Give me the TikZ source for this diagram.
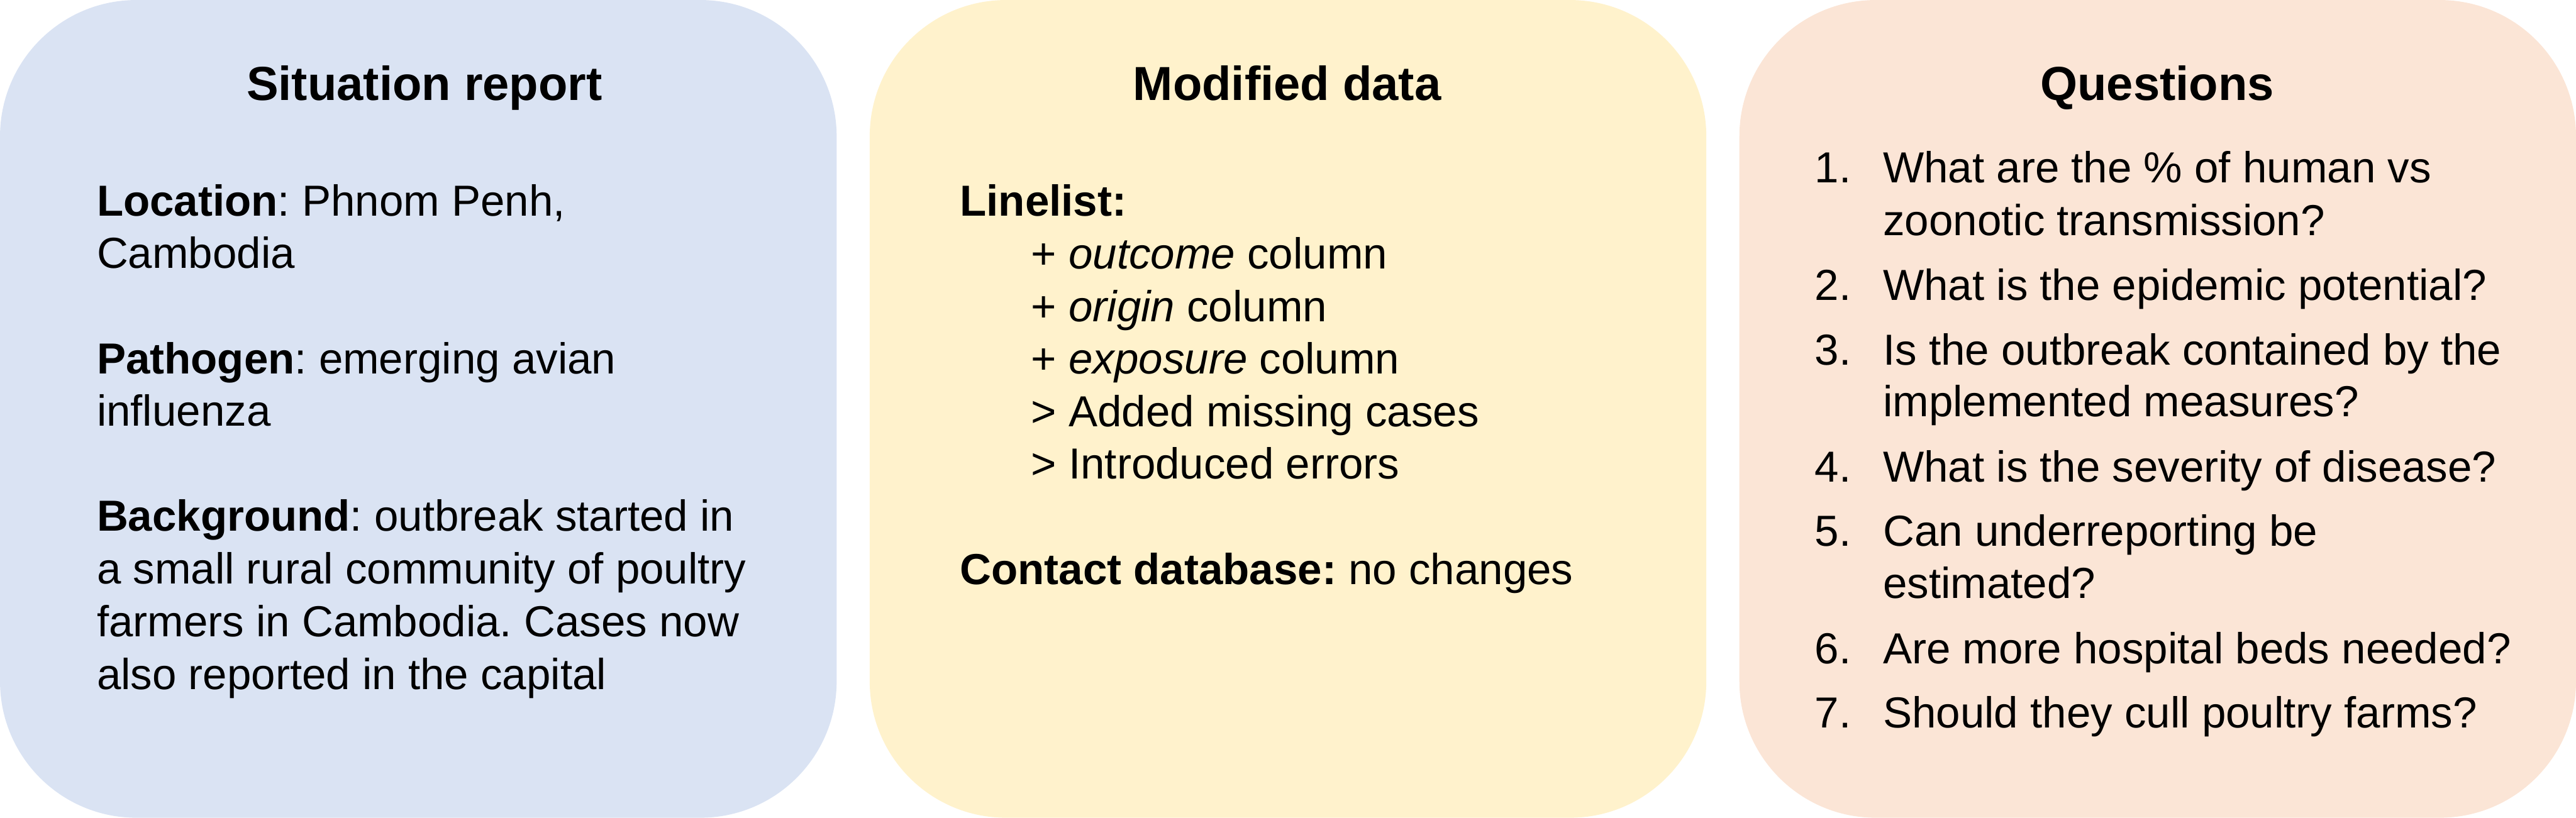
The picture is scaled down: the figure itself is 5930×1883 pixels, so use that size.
\documentclass[tikz,border=0pt]{standalone}
\usepackage{fontspec}
\setmainfont{Liberation Sans}
\frenchspacing
\definecolor{boxblue}{HTML}{DAE3F3}
\definecolor{boxyellow}{HTML}{FFF2CC}
\definecolor{boxpeach}{HTML}{FBE5D6}
\begin{document}
\begin{tikzpicture}[x=0.1pt,y=0.1pt,
  panel/.style={rectangle, rounded corners=31.4pt, draw=none, inner sep=0pt,
                minimum width=192.6pt, minimum height=188.3pt},
  title/.style={anchor=base, font=\fontsize{11}{13}\selectfont\bfseries\frenchspacing, inner sep=0pt},
  body/.style={anchor=base west, font=\fontsize{10}{12.1}\selectfont\frenchspacing, inner sep=0pt}]
\useasboundingbox (0,0) rectangle (5930,1883);
\node[panel, fill=boxblue]   (p1) at (963,941.5)  {};
\node[panel, fill=boxyellow] (p2) at (2965,941.5) {};
\node[panel, fill=boxpeach]  (p3) at (4967,941.5) {};

% Titles
\node[title] (t1) at (977,1652)  {Situation report};
\node[title] (t2) at (2963,1652) {Modified data};
\node[title] (t3) at (4966,1652) {Questions};

% Box 1
\node[body] (a1) at (221,1385) {\textbf{Location}: Phnom Penh,};
\node[body] (a2) at (221,1265) {Cambodia};
\node[body] (a3) at (221,1023) {\textbf{Pathogen}: emerging avian};
\node[body] (a4) at (221,902)  {influenza};
\node[body] (a5) at (221,661)  {\textbf{Background}: outbreak started in};
\node[body] (a6) at (221,539)  {a small rural community of poultry};
\node[body] (a7) at (221,417)  {farmers in Cambodia. Cases now};
\node[body] (a8) at (221,296)  {also reported in the capital};

% Box 2
\node[body] (b1) at (2208,1385) {\textbf{Linelist:}};
\node[body] (b2) at (2372,1264) {+ \textit{outcome} column};
\node[body] (b3) at (2372,1143) {+ \textit{origin} column};
\node[body] (b4) at (2372,1022) {+ \textit{exposure} column};
\node[body] (b5) at (2372,901)  {> Added missing cases};
\node[body] (b6) at (2372,780)  {> Introduced errors};
\node[body] (b7) at (2208,538)  {\textbf{Contact database:} no changes};

% Box 3
\node[body] (n1) at (4176,1462) {1.};
\node[body] (q1) at (4333,1462) {What are the \% of human vs};
\node[body] (q1b) at (4333,1341) {zoonotic transmission?};
\node[body] (n2) at (4176,1191) {2.};
\node[body] (q2) at (4333,1191) {What is the epidemic potential?};
\node[body] (n3) at (4176,1043) {3.};
\node[body] (q3) at (4333,1043) {Is the outbreak contained by the};
\node[body] (q3b) at (4333,924) {implemented measures?};
\node[body] (n4) at (4176,774)  {4.};
\node[body] (q4) at (4333,774)  {What is the severity of disease?};
\node[body] (n5) at (4176,626)  {5.};
\node[body] (q5) at (4333,626)  {Can underreporting be};
\node[body] (q5b) at (4333,506) {estimated?};
\node[body] (n6) at (4176,355)  {6.};
\node[body] (q6) at (4333,355)  {Are more hospital beds needed?};
\node[body] (n7) at (4176,207)  {7.};
\node[body] (q7) at (4333,207)  {Should they cull poultry farms?};
\end{tikzpicture}
\end{document}
